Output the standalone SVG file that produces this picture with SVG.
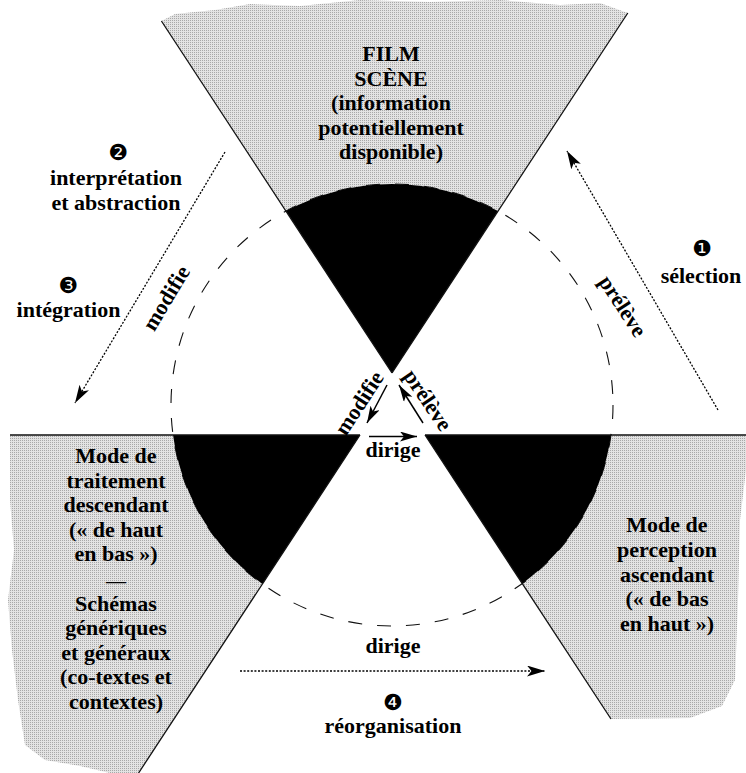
<svg xmlns="http://www.w3.org/2000/svg" width="746" height="773" viewBox="0 0 746 773">
<style>
.t{font-family:"Liberation Serif","Times New Roman",serif;font-weight:bold;font-size:22px;fill:#000;text-anchor:middle}
.n{font-family:"DejaVu Sans",sans-serif;font-size:22px;fill:#000;text-anchor:middle}
.ln{stroke:#111;stroke-width:1.3;fill:none}
.dot{stroke:#000;stroke-width:1.3;fill:none;stroke-dasharray:2 1.6;marker-end:url(#ah)}
.sol{stroke:#000;stroke-width:1.5;fill:none;marker-end:url(#ah2)}
.grey{fill:url(#ht)}
.blk{fill:#000}
</style>
<defs>
<pattern id="ht" width="2" height="2" patternUnits="userSpaceOnUse">
<rect width="2" height="2" fill="#e3e3e3"/>
<rect width="1" height="1" fill="#a8a8a8"/>
</pattern>
<marker id="ah" markerUnits="userSpaceOnUse" markerWidth="20" markerHeight="12" refX="18" refY="5.5" orient="auto">
<path d="M0,0 L18,5.5 L0,11 L4.5,5.5 Z" fill="#000"/>
</marker>
<marker id="ah2" markerUnits="userSpaceOnUse" markerWidth="20" markerHeight="12" refX="17" refY="5" orient="auto">
<path d="M0,0 L17,5 L0,10 L4,5 Z" fill="#000"/>
</marker>
</defs>
<rect width="746" height="773" fill="#fff"/>

<g id="regions">
<path class="grey" d="M161.4,21 L175,14 L215,10 L250,4 L300,6 L360,0 L430,2 L500,0 L560,5 L600,3 L627.8,13 L498,211.1 A221,221 0 0 0 286,211.1 Z"/>
<path class="grey" d="M10,435 L173.05,435 A221,221 0 0 0 262.4,584 L138.6,773 L110,773 L80,766 L45,760 L25,745 L18,700 L12,650 L8,600 L14,550 L10,500 Z"/>
<path class="grey" d="M610.95,435 L746,435 L746,470 L740,520 L738,600 L735,680 L722,706 L690,718 L611,719 L522.3,583.5 A221,221 0 0 0 610.95,435 Z"/>
<circle cx="392" cy="405" r="221" fill="none" stroke="#111" stroke-width="1.1" stroke-dasharray="14 15"/>
<path class="blk" d="M286,211.1 A221,221 0 0 1 498,211.1 L392,373 Z"/>
<path class="blk" d="M173.05,435 L360,435 L262.4,584 A221,221 0 0 1 173.05,435 Z"/>
<path class="blk" d="M425,435 L610.95,435 A221,221 0 0 1 522.3,583.5 Z"/>
<line class="ln" x1="161.4" y1="21" x2="392" y2="373"/>
<line class="ln" x1="627.8" y1="13" x2="392" y2="373"/>
<line class="ln" x1="360" y1="435" x2="138.6" y2="773"/>
<line class="ln" x1="425" y1="435" x2="611" y2="719"/>
<line class="ln" x1="10" y1="435" x2="360" y2="435"/>
<line class="ln" x1="425" y1="435" x2="746" y2="435"/>
</g>

<g id="connectors">
<line class="dot" x1="718" y1="410" x2="567" y2="151"/>
<line class="dot" x1="225" y1="152" x2="75" y2="403"/>
<line class="dot" x1="240" y1="671" x2="545" y2="671"/>
<line class="sol" x1="387" y1="385" x2="367" y2="423"/>
<line class="sol" x1="423" y1="423" x2="399" y2="385"/>
<line class="sol" x1="369" y1="436.5" x2="417" y2="436.5"/>
</g>

<g id="node-film">
<text class="t" x="391" y="61">FILM</text>
<text class="t" x="391" y="85.5">SCÈNE</text>
<text class="t" x="391" y="110">(information</text>
<text class="t" x="391" y="134.5">potentiellement</text>
<text class="t" x="391" y="159">disponible)</text>
</g>

<g id="node-descendant">
<text class="t" x="116" y="463">Mode de</text>
<text class="t" x="116" y="488">traitement</text>
<text class="t" x="116" y="512">descendant</text>
<text class="t" x="116" y="537">(« de haut</text>
<text class="t" x="116" y="561">en bas »)</text>
<text class="t" x="116" y="587" style="font-size:16px" textLength="20" lengthAdjust="spacingAndGlyphs">—</text>
<text class="t" x="116" y="611">Schémas</text>
<text class="t" x="116" y="635">génériques</text>
<text class="t" x="116" y="660">et généraux</text>
<text class="t" x="116" y="684">(co-textes et</text>
<text class="t" x="116" y="709">contextes)</text>
</g>

<g id="node-ascendant">
<text class="t" x="667" y="532">Mode de</text>
<text class="t" x="667" y="556.5">perception</text>
<text class="t" x="667" y="581.5">ascendant</text>
<text class="t" x="667" y="606">(« de bas</text>
<text class="t" x="667" y="631">en haut »)</text>
</g>

<g id="step-1">
<text class="n" x="702" y="256">❶</text>
<text class="t" x="701" y="283">sélection</text>
</g>
<g id="step-2">
<text class="n" x="118" y="160">❷</text>
<text class="t" x="116" y="185">interprétation</text>
<text class="t" x="116" y="209.5">et abstraction</text>
</g>
<g id="step-3">
<text class="n" x="68" y="293">❸</text>
<text class="t" x="68.5" y="317">intégration</text>
</g>
<g id="step-4">
<text class="n" x="393" y="710">❹</text>
<text class="t" x="393" y="733">réorganisation</text>
</g>

<g id="connector-labels">
<text class="t" transform="translate(166,298) rotate(-59)" x="0" y="7.5">modifie</text>
<text class="t" transform="translate(623,306) rotate(57)" x="0" y="7.5">prélève</text>
<text class="t" transform="translate(359,403) rotate(-57)" x="0" y="7.5">modifie</text>
<text class="t" transform="translate(428,400) rotate(56)" x="0" y="7.5">prélève</text>
<text class="t" x="393" y="457">dirige</text>
<text class="t" x="393" y="653">dirige</text>
</g>
</svg>
